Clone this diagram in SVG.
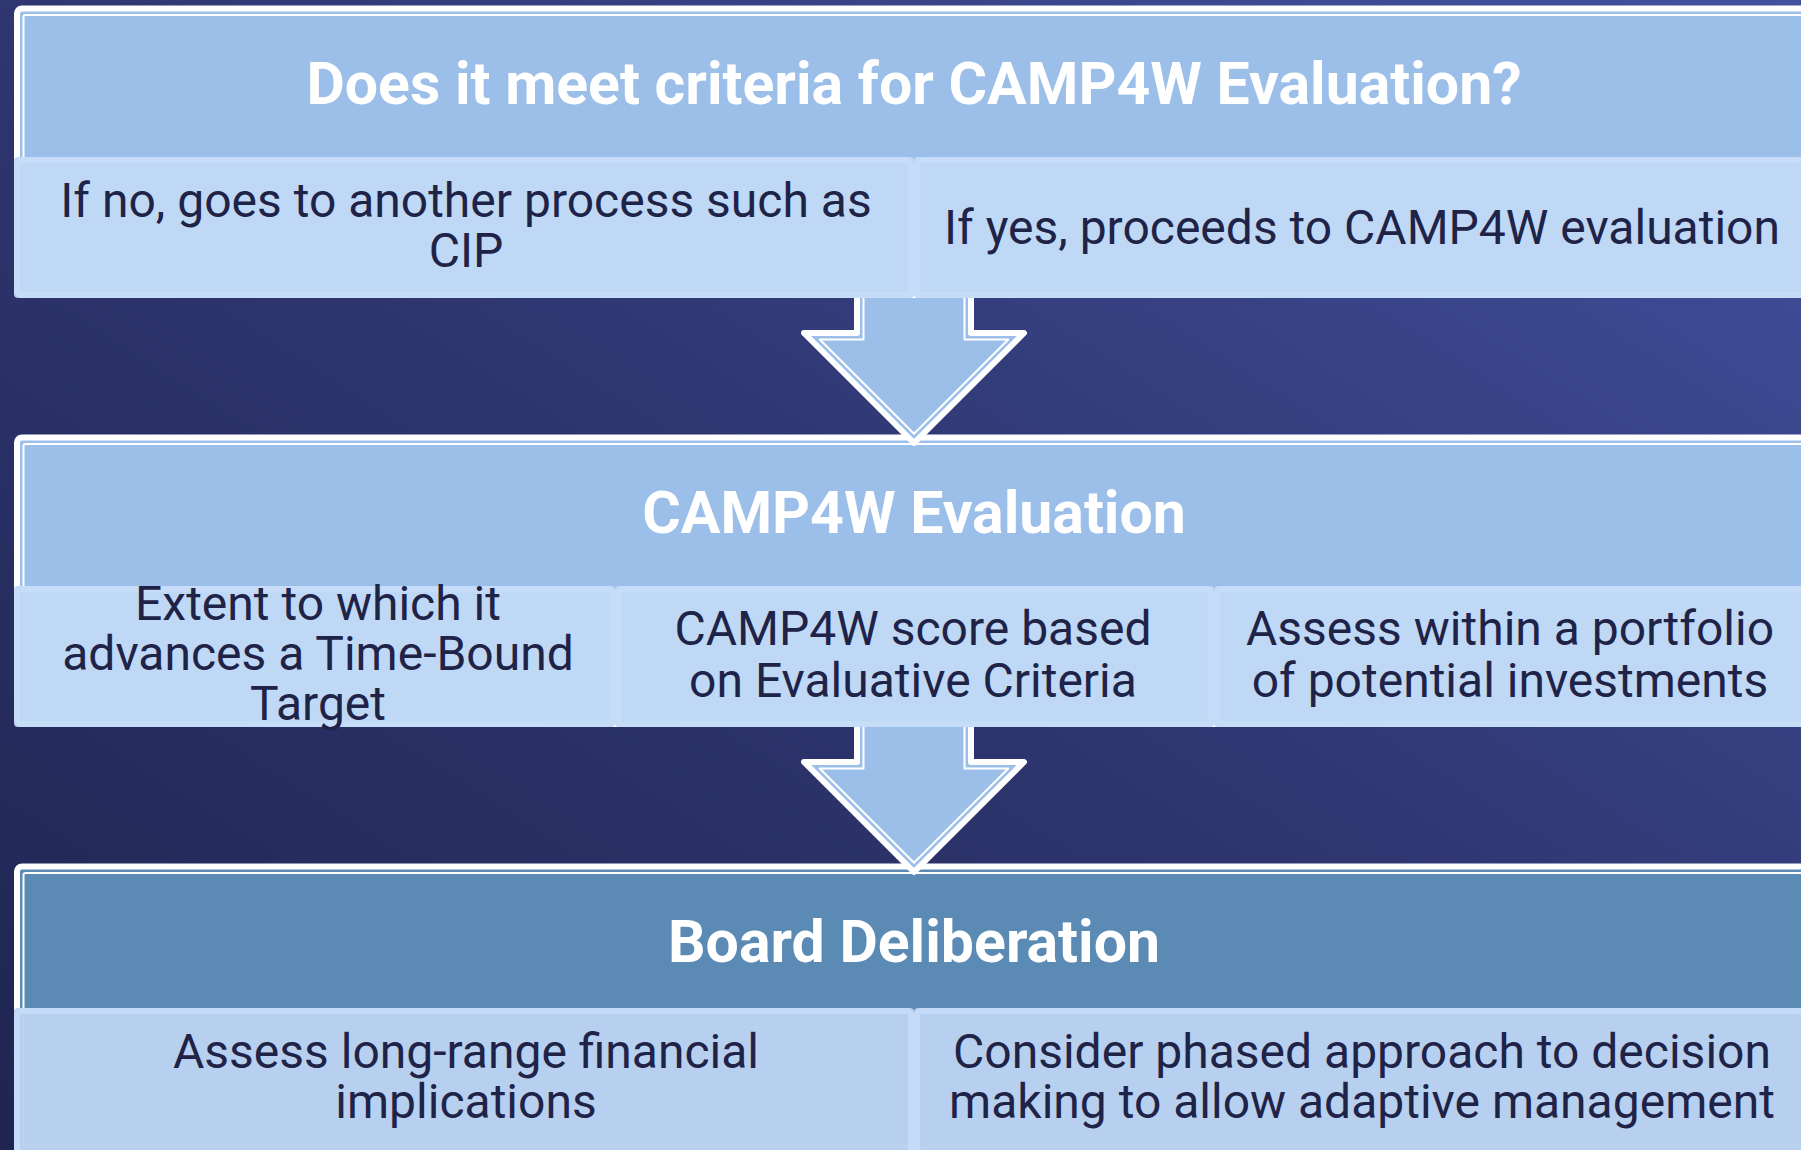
<svg xmlns="http://www.w3.org/2000/svg" width="1801" height="1150" viewBox="0 0 1801 1150">
  <defs>
    <linearGradient id="bg" x1="1" y1="0" x2="0" y2="1">
      <stop offset="0" stop-color="#4352A0"/>
      <stop offset="0.5" stop-color="#2F3670"/>
      <stop offset="1" stop-color="#1F2550"/>
    </linearGradient>
    <style>
      .frame { stroke: #FFFFFF; stroke-width: 6; }
      .frame-inner { fill: none; stroke: #FFFFFF; stroke-width: 2; }
      .head-light { fill: #9BBFE9; }
      .head-dark { fill: #5B8AB4; }
      .cell { fill: #BFD8F6; fill-opacity: 0.96; }
      .cell-dark { fill: #BAD3F1; fill-opacity: 0.97; }
      .cell-edge { fill: none; stroke: #C7DDF8; stroke-width: 6; stroke-opacity: 0.9; }
      .title { font-family: Roboto, "Liberation Sans", sans-serif; font-weight: 700; font-size: 59px; fill: #FFFFFF; text-anchor: middle; }
      .body { font-family: Roboto, "Liberation Sans", sans-serif; font-weight: 400; font-size: 48px; fill: #1F2347; text-anchor: middle; }
      .arrow { fill: #9BBFE9; stroke: #FFFFFF; stroke-width: 6; stroke-linejoin: round; stroke-linecap: butt; }
      .arrow-inner { fill: none; stroke: #FFFFFF; stroke-width: 2; stroke-linejoin: round; }
    </style>
  </defs>

  <rect x="0" y="0" width="1801" height="1150" fill="url(#bg)"/>

  <!-- Step 1: screening question -->
  <g id="criteria-check">
    <rect class="frame head-light" x="17" y="8.5" width="1794" height="286.5" rx="5"/>
    <rect class="frame-inner" x="23.5" y="15" width="1781" height="273.5" rx="2"/>
    <text class="title" x="914" y="104">Does it meet criteria for CAMP4W Evaluation?</text>
    <g id="criteria-no">
      <rect class="cell" x="14" y="157" width="900" height="141" rx="4"/>
      <rect class="cell-edge" x="17" y="160" width="894" height="135" rx="5"/>
      <text class="body" x="466" y="217">If no, goes to another process such as</text>
      <text class="body" x="466" y="267">CIP</text>
    </g>
    <g id="criteria-yes">
      <rect class="cell" x="914" y="157" width="900" height="141" rx="4"/>
      <rect class="cell-edge" x="917" y="160" width="894" height="135" rx="5"/>
      <text class="body" x="1362" y="244">If yes, proceeds to CAMP4W evaluation</text>
    </g>
  </g>

  <!-- Step 2: evaluation -->
  <g id="camp4w-evaluation">
    <rect class="frame head-light" x="17" y="437.5" width="1794" height="286.5" rx="5"/>
    <rect class="frame-inner" x="23.5" y="444" width="1781" height="273.5" rx="2"/>
    <text class="title" x="914" y="533">CAMP4W Evaluation</text>
    <g id="eval-target">
      <rect class="cell" x="14" y="586" width="601" height="141" rx="4"/>
      <rect class="cell-edge" x="17" y="589" width="595" height="135" rx="5"/>
      <text class="body" x="318" y="620">Extent to which it</text>
      <text class="body" x="318" y="670">advances a Time-Bound</text>
      <text class="body" x="318" y="720">Target</text>
    </g>
    <g id="eval-score">
      <rect class="cell" x="615" y="586" width="599" height="141" rx="4"/>
      <rect class="cell-edge" x="618" y="589" width="593" height="135" rx="5"/>
      <text class="body" x="913" y="645">CAMP4W score based</text>
      <text class="body" x="913" y="697">on Evaluative Criteria</text>
    </g>
    <g id="eval-portfolio">
      <rect class="cell" x="1214" y="586" width="600" height="141" rx="4"/>
      <rect class="cell-edge" x="1217" y="589" width="594" height="135" rx="5"/>
      <text class="body" x="1510" y="645">Assess within a portfolio</text>
      <text class="body" x="1510" y="697">of potential investments</text>
    </g>
  </g>

  <!-- Step 3: board -->
  <g id="board-deliberation">
    <rect class="frame head-dark" x="17" y="866.5" width="1794" height="286.5" rx="5"/>
    <rect class="frame-inner" x="23.5" y="873" width="1781" height="273.5" rx="2"/>
    <text class="title" x="914" y="962">Board Deliberation</text>
    <g id="board-finance">
      <rect class="cell-dark" x="14" y="1008" width="900" height="148" rx="4"/>
      <rect class="cell-edge" x="17" y="1011" width="894" height="142" rx="5"/>
      <text class="body" x="466" y="1068">Assess long-range financial</text>
      <text class="body" x="466" y="1118">implications</text>
    </g>
    <g id="board-phased">
      <rect class="cell-dark" x="914" y="1008" width="900" height="148" rx="4"/>
      <rect class="cell-edge" x="917" y="1011" width="894" height="142" rx="5"/>
      <text class="body" x="1362" y="1068">Consider phased approach to decision</text>
      <text class="body" x="1362" y="1118">making to allow adaptive management</text>
    </g>
  </g>

  <!-- Down arrows between steps -->
  <g id="connectors">
    <g id="arrow-1">
      <path class="arrow" d="M857,298 V333 H804 L914,443 L1024,333 H971 V298"/>
      <path class="arrow-inner" d="M863.5,298 V339.5 H819.7 L914,433.8 L1008.3,339.5 H964.5 V298"/>
    </g>
    <g id="arrow-2">
      <path class="arrow" d="M857,727 V762 H804 L914,872 L1024,762 H971 V727"/>
      <path class="arrow-inner" d="M863.5,727 V768.5 H819.7 L914,862.8 L1008.3,768.5 H964.5 V727"/>
    </g>
  </g>
</svg>
